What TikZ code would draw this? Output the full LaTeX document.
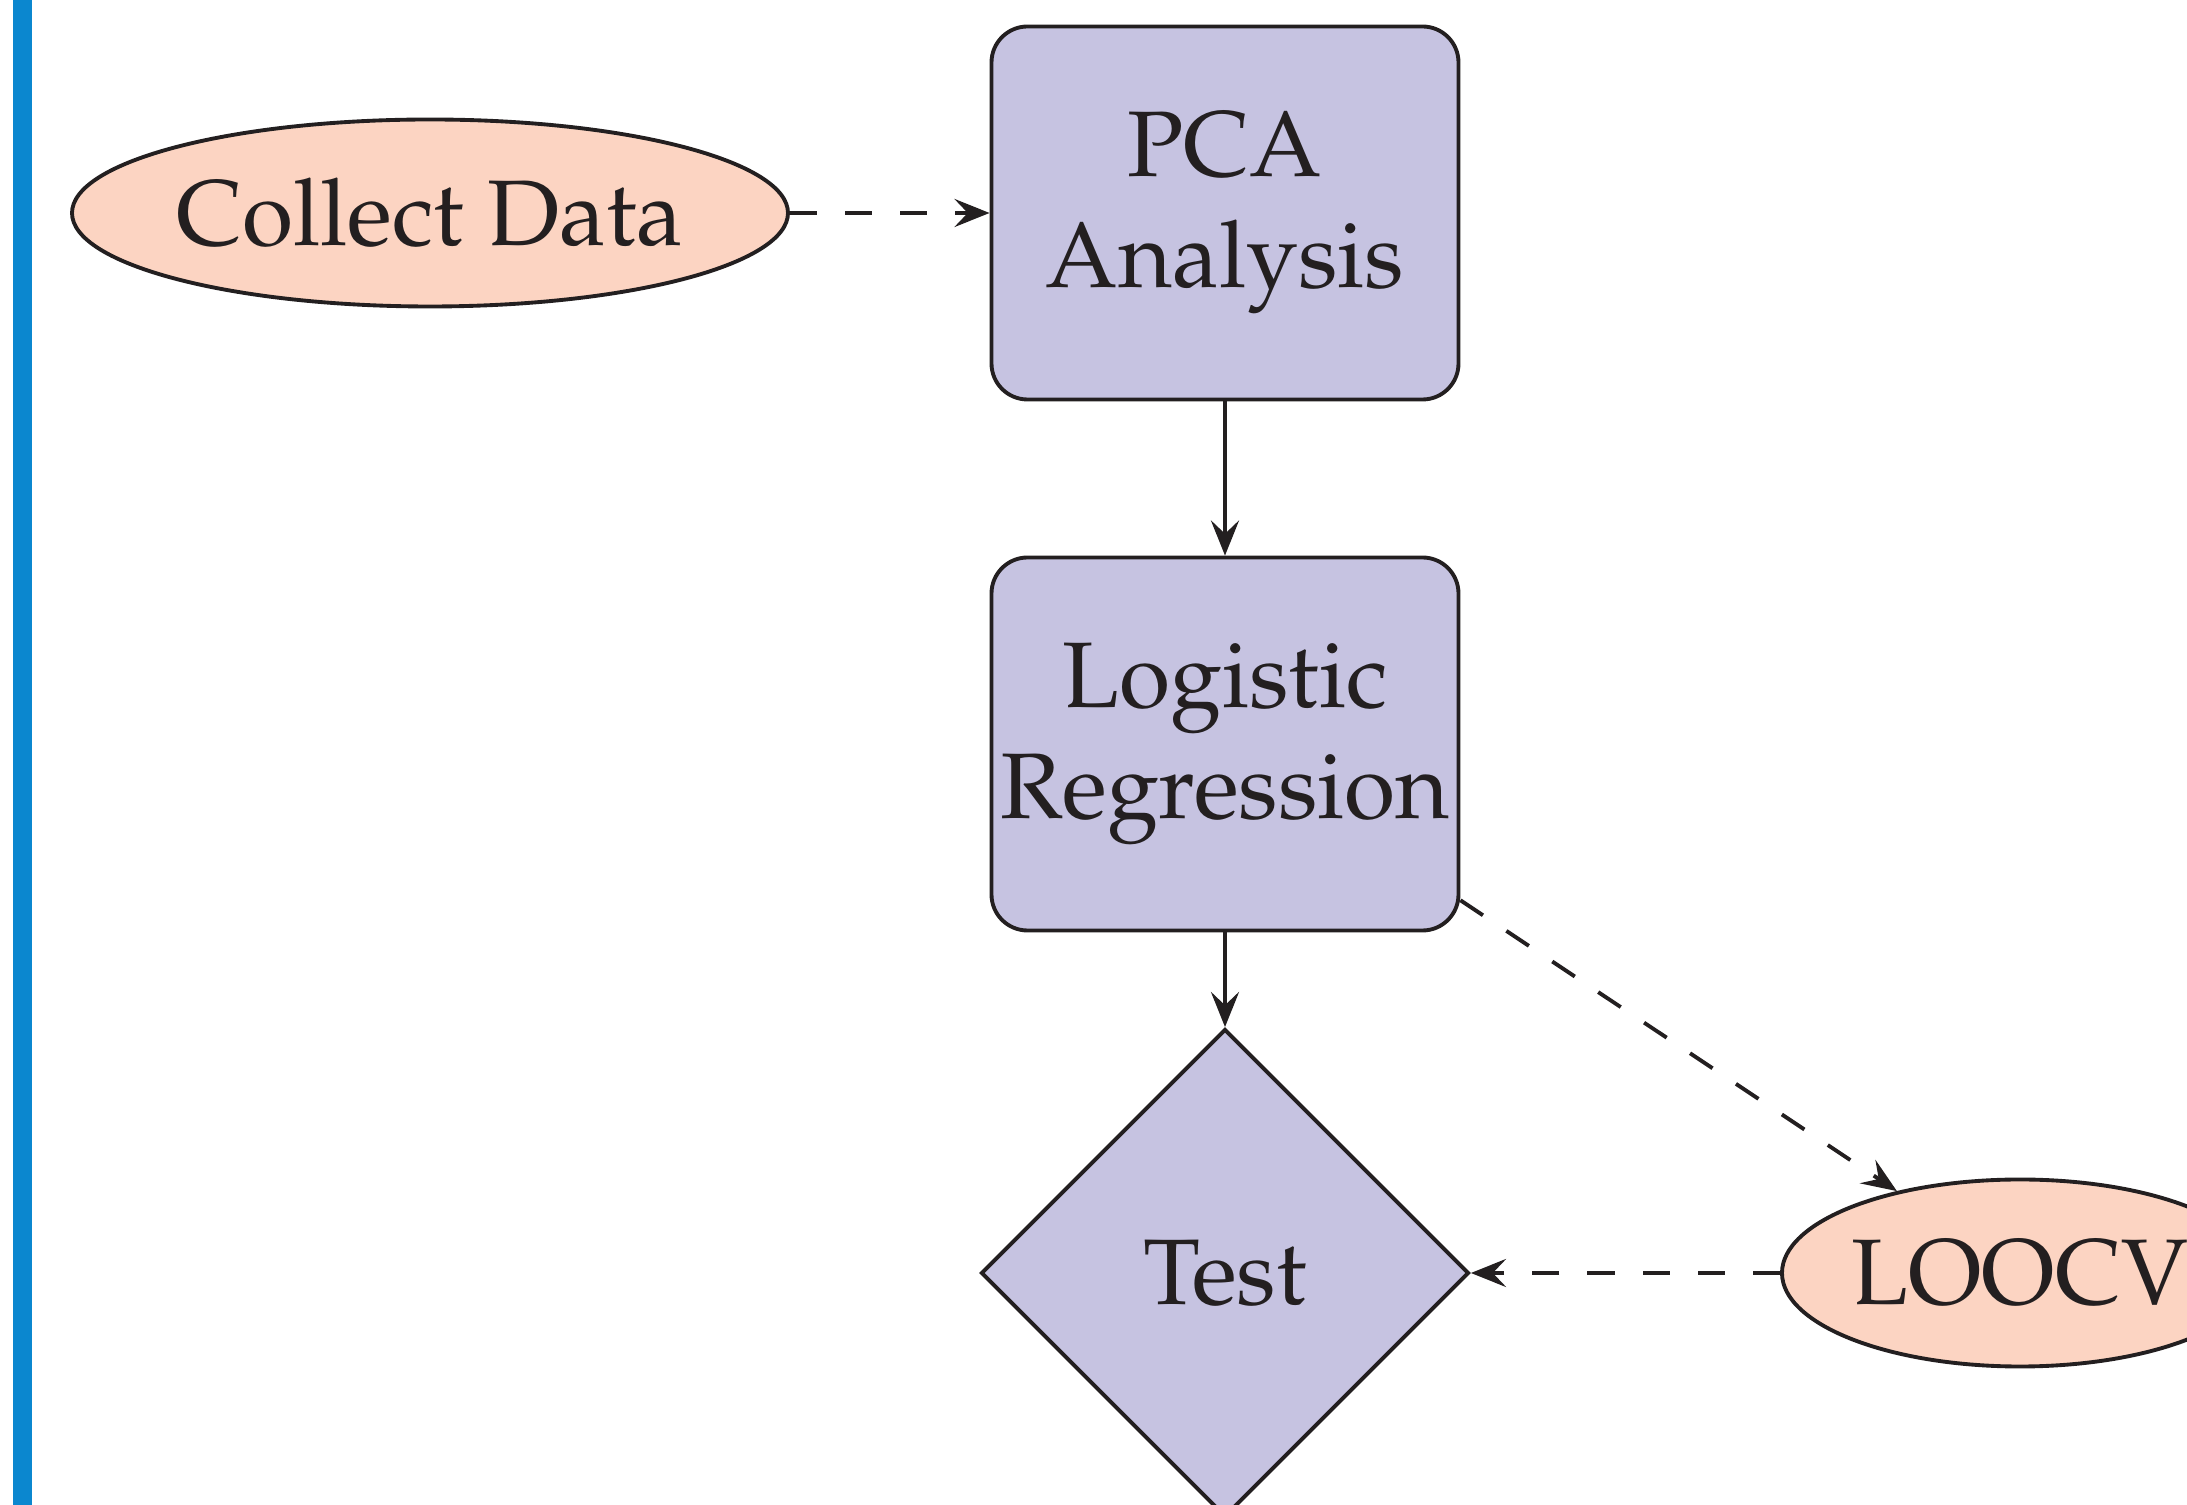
\documentclass[tikz,border=0pt]{standalone}
\usepackage[T1]{fontenc}
\usepackage{mathpazo}
\usepackage{tikz}
\usetikzlibrary{arrows.meta,shapes.geometric}
\definecolor{inkline}{HTML}{231F20}
\definecolor{boxfill}{HTML}{C6C3E1}
\definecolor{termfill}{HTML}{FCD4C2}
\definecolor{barblue}{HTML}{0B87CF}
\tikzset{flow/.style={-{Stealth[length=10pt, width=8pt, inset=3.8pt]}, line width=1.1pt, draw=inkline},
  dashflow/.style={flow, dash pattern=on 7.7pt off 8pt},
  procbox/.style={draw=inkline, line width=1.1pt, fill=boxfill, rounded corners=0.36cm, minimum width=4.67cm, minimum height=3.73cm, inner xsep=0pt, align=center},
  termnode/.style={ellipse, draw=inkline, line width=1.1pt, fill=termfill, inner xsep=0pt, inner ysep=0pt, minimum height=1.87cm},
  decide/.style={diamond, aspect=1, draw=inkline, line width=1.1pt, fill=boxfill, minimum width=4.88cm, minimum height=4.88cm, inner sep=0pt}}

\begin{document}
\begin{tikzpicture}[font=\fontsize{26.5}{31.6}\selectfont, text=inkline]
  \useasboundingbox (0,0) rectangle (21.87,-15.05);
  \clip (0,0) rectangle (21.87,-15.05);
  % side bar
  \fill[barblue] (0.13,0) rectangle (0.32,-15.05);
  % main chain
  \node[termnode] (collect) at (4.30,-2.13) {Collect Data};
  \node[procbox] (pca) at (12.25,-2.13) {PCA\\Analysis};
  \node[procbox] (logreg) at (12.25,-7.44) {Logistic\\Regression};
  \node[decide] (test) at (12.25,-12.73) {Test};
  \node[termnode] (loocv) at (20.20,-12.73) {LOOCV};
  \draw[dashflow] (collect) -- (pca);
  \draw[flow] (pca) -- (logreg);
  \draw[flow] (logreg) -- (test);
  % validation
  \draw[dashflow] (logreg) -- (loocv);
  \draw[dashflow] (loocv) -- (test);
\end{tikzpicture}
\end{document}
